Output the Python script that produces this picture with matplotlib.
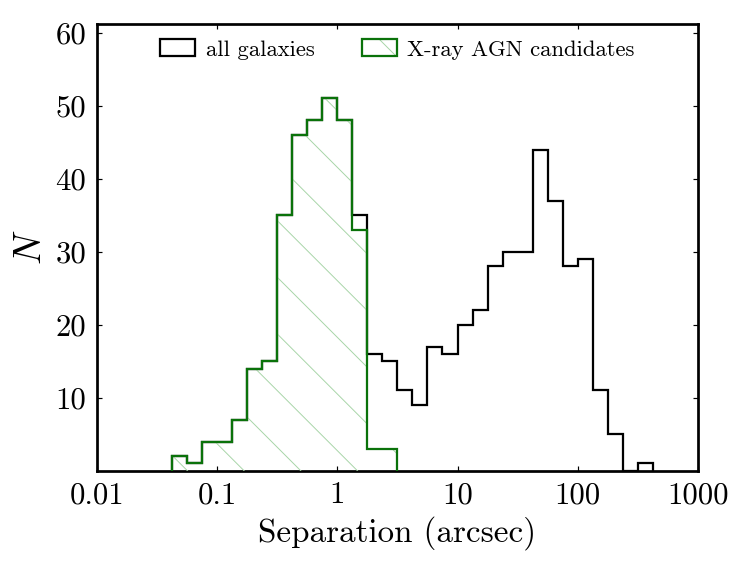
import numpy as np
import matplotlib
matplotlib.use("Agg")
import matplotlib.pyplot as plt
from matplotlib.legend_handler import HandlerTuple

# ---- data ----
bin_step = 0.125                      # bin width in dex
first_edge_log = -1.375               # log10 of first bin edge
all_counts = [2, 1, 4, 4, 7, 14, 15, 35, 46, 48, 51, 48, 35, 16, 15, 11,
              9, 17, 16, 20, 22, 28, 30, 30, 44, 37, 28, 29, 11, 5, 0, 1]
agn_counts = [2, 1, 4, 4, 7, 14, 15, 35, 46, 48, 51, 48, 33, 3, 3]
xtick_vals = [0.01, 0.1, 1, 10, 100, 1000]
xtick_labels = ["0.01", "0.1", "1", "10", "100", "1000"]
ytick_vals = [10, 20, 30, 40, 50, 60]
labels = ["all galaxies", "X-ray AGN candidates"]

def edges_for(n):
    return 10 ** (first_edge_log + bin_step * np.arange(n + 1))

all_edges = edges_for(len(all_counts))
agn_edges = edges_for(len(agn_counts))
all_centers = np.sqrt(all_edges[:-1] * all_edges[1:])
agn_centers = np.sqrt(agn_edges[:-1] * agn_edges[1:])

DPI = 170
plt.rcParams['font.family'] = ['cmr10', 'DejaVu Serif']
plt.rcParams['mathtext.fontset'] = 'cm'
plt.rcParams['axes.formatter.use_mathtext'] = True
plt.rcParams['hatch.linewidth'] = 0.4

fig = plt.figure(figsize=(748 / DPI, 568 / DPI), dpi=DPI)
ax = fig.add_axes([0.1293, 0.1713, 0.8039, 0.7865])

_, _, p_all = ax.hist(all_centers, bins=all_edges, weights=all_counts,
                      histtype='step', color='black', linewidth=0.95, zorder=2)
_, _, p_hatch = ax.hist(agn_centers, bins=agn_edges, weights=agn_counts,
                        histtype='stepfilled', facecolor='none',
                        edgecolor='#a6d4a6', linewidth=0, hatch='\\', zorder=3)
_, _, p_agn = ax.hist(agn_centers, bins=agn_edges, weights=agn_counts,
                      histtype='step', color='#0a720a', linewidth=0.95, zorder=4)

ax.set_xscale('log')
ax.set_xlim(0.01, 1000)
ax.set_ylim(0, 1.2 * max(all_counts))
ax.set_xticks(xtick_vals, labels=xtick_labels)
ax.xaxis.set_minor_locator(matplotlib.ticker.NullLocator())
ax.set_yticks(ytick_vals, labels=[str(v) for v in ytick_vals])

ax.tick_params(which='both', direction='in', top=True, right=True,
               length=2.0, width=0.5, labelsize=13, pad=4.5)
for s in ax.spines.values():
    s.set_linewidth(1.15)

ax.set_xlabel("Separation (arcsec)", fontsize=14, labelpad=3)
ax.set_ylabel("$N$", fontsize=16, labelpad=3)

leg = ax.legend([p_all[0], (p_hatch[0], p_agn[0])], labels,
                handler_map={tuple: HandlerTuple(ndivide=1)},
                loc='center', bbox_to_anchor=(0.5, 0.943), ncol=2,
                frameon=False, fontsize=9.6, handlelength=1.55,
                handleheight=0.8, handletextpad=0.45, columnspacing=2.1)

fig.savefig("out.png", dpi=DPI)
